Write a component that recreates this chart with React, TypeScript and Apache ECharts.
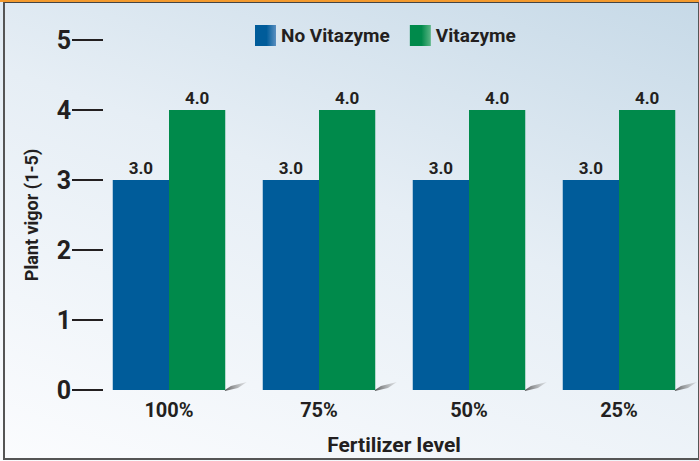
import React, { useEffect, useRef } from "react";
import * as echarts from "echarts";

const categories = ["100%", "75%", "50%", "25%"];
const noVitazyme = [3.0, 3.0, 3.0, 3.0];
const vitazyme = [4.0, 4.0, 4.0, 4.0];
const yTicks = [0, 1, 2, 3, 4, 5];

const FONT = "Roboto, 'Liberation Sans', sans-serif";
const TXT = "#231f20";
const BLUE = "#005c9a";
const GREEN = "#008a4b";

export default function App() {
  const ref = useRef<HTMLDivElement>(null);
  useEffect(() => {
    const chart = echarts.init(ref.current!, undefined, { renderer: "svg" });
    const grad = (c1: string, c2: string) =>
      new echarts.graphic.LinearGradient(0, 0, 1, 0, [
        { offset: 0, color: c1 },
        { offset: 0.55, color: c1 },
        { offset: 1, color: c2 },
      ]);
    const valueLabel = {
      show: true,
      position: "top",
      distance: 4,
      formatter: (p: any) => p.value.toFixed(1),
      fontFamily: FONT,
      fontSize: 17,
      fontWeight: "bold",
      color: TXT,
    };
    chart.setOption({
      animation: false,
      textStyle: { fontFamily: FONT },
      grid: { left: 94, right: 5, top: 40, bottom: 71 },
      legend: {
        left: 250,
        top: 20,
        itemWidth: 21,
        itemHeight: 21,
        itemGap: 20,
        textStyle: { fontFamily: FONT, fontSize: 19, fontWeight: "bold", color: TXT },
        data: [
          { name: "No Vitazyme", icon: "rect", itemStyle: { color: grad(BLUE, "#5a8fc0") } },
          { name: "Vitazyme", icon: "rect", itemStyle: { color: grad(GREEN, "#5bb585") } },
        ],
      },
      xAxis: {
        type: "category",
        data: categories,
        axisLine: { show: false },
        axisTick: { show: false },
        axisLabel: { fontFamily: FONT, fontSize: 20, fontWeight: "bold", color: TXT, margin: 10 },
        name: "Fertilizer level",
        nameLocation: "middle",
        nameGap: 44,
        nameTextStyle: { fontFamily: FONT, fontSize: 21, fontWeight: "bold", color: TXT },
      },
      yAxis: {
        type: "value",
        min: yTicks[0],
        max: yTicks[yTicks.length - 1],
        interval: 1,
        offset: -9,
        splitLine: { show: false },
        axisLine: { show: false },
        axisTick: { show: true, length: 31, lineStyle: { color: TXT, width: 2 } },
        axisLabel: { fontFamily: FONT, fontSize: 25, fontWeight: "bold", color: TXT, margin: 32 },
        name: "Plant vigor (1-5)",
        nameLocation: "middle",
        nameRotate: 90,
        nameGap: 63,
        nameTextStyle: { fontFamily: FONT, fontSize: 18, fontWeight: "bold", color: TXT },
      },
      series: [
        {
          name: "No Vitazyme",
          type: "bar",
          data: noVitazyme,
          barGap: "0%",
          barCategoryGap: "25%",
          itemStyle: { color: BLUE },
          label: valueLabel,
        },
        {
          name: "Vitazyme",
          type: "bar",
          data: vitazyme,
          itemStyle: { color: GREEN },
          label: valueLabel,
        },
        {
          name: "shadow",
          type: "custom",
          silent: true,
          z: 1,
          data: categories.map((_, i) => [i, 0]),
          renderItem: (params: any, api: any) => {
            const pt = api.coord([api.value(0), 0]);
            const band = api.size([1, 0])[0];
            const x0 = pt[0] + band * 0.373;
            const y0 = pt[1];
            return {
              type: "polygon",
              shape: {
                points: [
                  [x0, y0],
                  [x0 + 6, y0 - 4],
                  [x0 + 22, y0 - 8],
                  [x0 + 13, y0 - 2],
                  [x0, y0 + 1],
                ],
              },
              style: {
                fill: new echarts.graphic.LinearGradient(0, 0, 1, 0, [
                  { offset: 0, color: "rgba(50,50,50,0.8)" },
                  { offset: 1, color: "rgba(160,160,160,0.25)" },
                ]),
              },
            };
          },
        },
      ],
    });
    return () => chart.dispose();
  }, []);

  return (
    <div
      style={{
        position: "fixed",
        left: 0,
        top: 0,
        width: 699,
        height: 461,
        background: "linear-gradient(200deg, #c6d9e7 0%, #e6eef5 45%, #fbfcfe 100%)",
      }}
    >
      <div style={{ position: "absolute", left: 0, top: 0, width: 699, height: 2, background: "#f39a2e" }} />
      <div
        style={{
          position: "absolute",
          left: 3,
          top: 2,
          width: 693,
          height: 455,
          borderTop: "1px solid #444",
          borderLeft: "2px solid #555",
          borderRight: "1px solid #555",
          borderBottom: "2px solid #555",
        }}
      />
      <div ref={ref} style={{ position: "absolute", left: 0, top: 0, width: 699, height: 461 }} />
    </div>
  );
}
